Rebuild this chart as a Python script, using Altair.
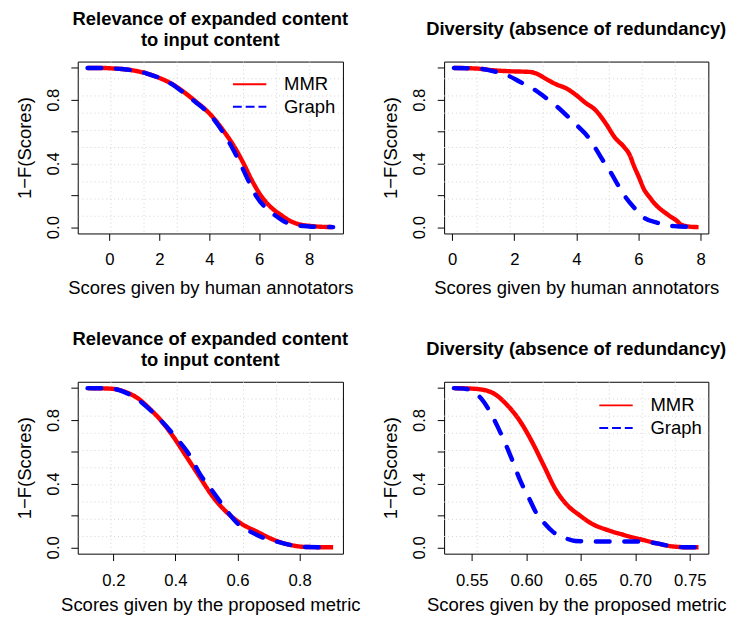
import altair as alt
import pandas as pd

FONT = "Liberation Sans"

# ---------------- data ----------------
# Panel 1: relevance, human annotators
p1_mmr_x = [-0.88, -0.3, 0.0, 0.5, 0.92, 1.5, 2.03, 2.5, 2.88, 3.41, 4.06, 4.59, 4.98, 5.37, 5.7, 6.1, 6.5, 6.88, 7.2, 7.5, 8.0, 8.5, 8.96]
p1_mmr_y = [1.0, 1.0, 0.998, 0.993, 0.985, 0.965, 0.935, 0.9, 0.86, 0.795, 0.705, 0.6, 0.51, 0.40, 0.295, 0.19, 0.12, 0.075, 0.042, 0.022, 0.008, 0.002, 0.0]
p1_graph_x = [-0.88, -0.3, 0.0, 0.5, 0.92, 1.5, 2.03, 2.5, 2.88, 3.41, 4.06, 4.59, 4.98, 5.24, 5.6, 5.9, 6.3, 6.69, 7.0, 7.34, 8.0, 8.5, 8.96]
p1_graph_y = [1.0, 1.0, 0.998, 0.993, 0.985, 0.965, 0.935, 0.898, 0.855, 0.79, 0.70, 0.585, 0.48, 0.40, 0.28, 0.19, 0.115, 0.068, 0.035, 0.017, 0.004, 0.001, 0.0]

# Panel 2: diversity, human annotators
p2_mmr_x = [0.055, 0.8, 1.34, 1.87, 2.5, 2.71, 3.03, 3.35, 3.67, 3.99, 4.3, 4.6, 4.93, 5.24, 5.55, 5.7, 5.87, 6.0, 6.19, 6.35, 6.51, 6.93, 7.26, 7.36, 7.67, 7.935]
p2_mmr_y = [1.0, 0.996, 0.985, 0.979, 0.975, 0.965, 0.93, 0.897, 0.872, 0.83, 0.78, 0.738, 0.656, 0.563, 0.50, 0.46, 0.377, 0.32, 0.233, 0.19, 0.15, 0.08, 0.035, 0.017, 0.002, 0.0]
p2_graph_x = [0.055, 0.81, 1.34, 1.76, 2.18, 2.66, 3.03, 3.4, 3.77, 4.04, 4.39, 4.6, 4.92, 5.13, 5.34, 5.61, 5.87, 6.19, 6.61, 7.14, 7.935]
p2_graph_y = [1.0, 0.996, 0.979, 0.955, 0.913, 0.862, 0.81, 0.753, 0.686, 0.635, 0.563, 0.50, 0.398, 0.336, 0.264, 0.181, 0.12, 0.058, 0.027, 0.006, 0.0]

# Panel 3: relevance, proposed metric
p3_mmr_x = [0.117, 0.19, 0.236, 0.28, 0.32, 0.352, 0.395, 0.437, 0.479, 0.516, 0.559, 0.611, 0.664, 0.717, 0.77, 0.823, 0.908]
p3_mmr_y = [1.0, 0.997, 0.978, 0.935, 0.865, 0.80, 0.69, 0.565, 0.44, 0.33, 0.232, 0.15, 0.097, 0.047, 0.015, 0.002, 0.0]
p3_graph_x = [0.117, 0.19, 0.236, 0.283, 0.32, 0.352, 0.395, 0.437, 0.4476, 0.479, 0.511, 0.5375, 0.569, 0.601, 0.633, 0.675, 0.717, 0.77, 0.823, 0.908]
p3_graph_y = [1.0, 0.998, 0.975, 0.923, 0.861, 0.80, 0.706, 0.603, 0.572, 0.459, 0.376, 0.304, 0.221, 0.149, 0.108, 0.066, 0.041, 0.015, 0.002, 0.0]

# Panel 4: diversity, proposed metric
p4_mmr_x = [0.5336, 0.5527, 0.5677, 0.5827, 0.5946, 0.6066, 0.6156, 0.6276, 0.6395, 0.6482, 0.6599, 0.6748, 0.6898, 0.7048, 0.7197, 0.7347, 0.7497, 0.758]
p4_mmr_y = [1.0, 0.996, 0.975, 0.892, 0.789, 0.645, 0.52, 0.355, 0.252, 0.205, 0.149, 0.108, 0.077, 0.05, 0.025, 0.005, 0.0, 0.0]
p4_graph_x = [0.5336, 0.545, 0.5497, 0.5587, 0.5677, 0.5737, 0.5812, 0.5857, 0.5946, 0.6021, 0.6096, 0.6156, 0.6245, 0.6366, 0.6449, 0.6689, 0.7048, 0.7197, 0.7347, 0.7497, 0.758]
p4_graph_y = [1.0, 0.995, 0.985, 0.934, 0.84, 0.758, 0.645, 0.572, 0.417, 0.314, 0.211, 0.159, 0.097, 0.056, 0.04, 0.036, 0.036, 0.025, 0.005, 0.0, 0.0]

series_names = ["MMR", "Graph"]
series_colors = ["#FF0000", "#0000FF"]

title_relevance = ["Relevance of expanded content", "to input content"]
title_diversity = "Diversity (absence of redundancy)"
xlab_human = "Scores given by human annotators"
xlab_metric = "Scores given by the proposed metric"
ylab = "1\u2212F(Scores)"

ticks_human1 = [0, 2, 4, 6, 8]
ticks_human2 = [0, 2, 4, 6, 8]
ticks_metric1 = [0.2, 0.4, 0.6, 0.8]
ticks_metric2 = [0.55, 0.60, 0.65, 0.70, 0.75]
y_ticks = [0.0, 0.2, 0.4, 0.6, 0.8, 1.0]


def panel(mx, my, gx, gy, xticks, xfmt, title, two_line, xtitle, show_legend, width, xtitle_y, legend_y):
    lo = min(mx[0], gx[0])
    hi = max(mx[-1], gx[-1])
    w = hi - lo
    xdom = [lo - 0.04 * w, hi + 0.04 * w]
    ydom = [-0.04, 1.04]

    df = pd.DataFrame({
        "x": list(mx) + list(gx),
        "y": list(my) + list(gy),
        "series": ["MMR"] * len(mx) + ["Graph"] * len(gx),
    })
    vgrid = pd.DataFrame({"x": [xdom[0] + k * (xdom[1] - xdom[0]) / 8 for k in range(1, 8)]})
    hgrid = pd.DataFrame({"y": [ydom[0] + k * (ydom[1] - ydom[0]) / 10 for k in range(1, 10)]})

    xs = alt.Scale(domain=xdom, nice=False, zero=False)
    ys = alt.Scale(domain=ydom, nice=False, zero=False)
    cs = alt.Scale(domain=series_names, range=series_colors)
    ds = alt.Scale(domain=series_names, range=[[1, 0], [9, 4]])

    xaxis = alt.Axis(values=xticks, format=xfmt, labelAngle=0, labelPadding=12, tickSize=7,
                     labelFlush=False, labelOverlap=False, title=xtitle,
                     titleY=xtitle_y, titleBaseline="alphabetic")
    yaxis = alt.Axis(values=y_ticks, tickSize=7, labelAngle=270, labelAlign="center",
                     labelBaseline="bottom", labelPadding=9, labelFlush=False, labelOverlap=False,
                     labelExpr="(abs(datum.value) < 1e-6 || abs(datum.value - 0.4) < 1e-6 || abs(datum.value - 0.8) < 1e-6) ? format(datum.value, '.1f') : ''",
                     title=ylab, titleAngle=270, titleX=-48, titleBaseline="alphabetic",
                     titleAlign="center")

    if show_legend:
        leg = alt.Legend(title=None, orient="none", legendX=157, legendY=legend_y,
                         symbolType="stroke", symbolSize=1156, symbolStrokeWidth=2,
                         labelFontSize=18.8, labelFont=FONT, labelColor="black",
                         labelOffset=17, rowPadding=4, padding=0, clipHeight=18)
    else:
        leg = None

    X = alt.X("x:Q", scale=xs, axis=xaxis)
    Y = alt.Y("y:Q", scale=ys, axis=yaxis)

    vg = alt.Chart(vgrid).mark_rule(color="#d3d3d3", strokeDash=[1, 3], strokeWidth=1).encode(x=X)
    hg = alt.Chart(hgrid).mark_rule(color="#d3d3d3", strokeDash=[1, 3], strokeWidth=1).encode(y=Y)

    mmr = alt.Chart(df).transform_filter(alt.datum.series == "MMR").mark_line(
        interpolate="monotone"
    ).encode(
        x=X, y=Y,
        color=alt.Color("series:N", scale=cs, legend=leg),
        strokeDash=alt.StrokeDash("series:N", scale=ds, legend=leg),
        strokeWidth=alt.value(4.5),
    )
    graph = alt.Chart(df).transform_filter(alt.datum.series == "Graph").mark_line(
        interpolate="monotone", strokeWidth=4.5, strokeCap="round", strokeDash=[14, 15]
    ).encode(
        x=X, y=Y,
        color=alt.Color("series:N", scale=cs, legend=None),
    )

    t = alt.TitleParams(text=title, fontSize=18.7, fontWeight="bold", font=FONT, color="black",
                        baseline="bottom", offset=-9 if two_line else 2, lineHeight=21,
                        anchor="middle", frame="group")
    return alt.layer(hg, vg, mmr, graph).properties(width=width, height=175, title=t)


c1 = panel(p1_mmr_x, p1_mmr_y, p1_graph_x, p1_graph_y, ticks_human1, "d", title_relevance, True, xlab_human, True, 270, 61, 14)
c2 = panel(p2_mmr_x, p2_mmr_y, p2_graph_x, p2_graph_y, ticks_human2, "d", title_diversity, False, xlab_human, False, 269, 61, 14)
c3 = panel(p3_mmr_x, p3_mmr_y, p3_graph_x, p3_graph_y, ticks_metric1, ".1f", title_relevance, True, xlab_metric, False, 270, 58, 15)
c4 = panel(p4_mmr_x, p4_mmr_y, p4_graph_x, p4_graph_y, ticks_metric2, ".2f", title_diversity, False, xlab_metric, True, 269, 58, 15)

chart = alt.concat(c1, c2, c3, c4, columns=2, spacing={"row": 32, "column": 21}).resolve_scale(
    color="independent", strokeDash="independent", x="independent", y="independent"
).resolve_legend(color="independent", strokeDash="independent").properties(
    padding={"left": 7, "right": 0, "top": -4, "bottom": 0}
).configure_view(stroke="black", strokeWidth=1).configure_axis(
    labelFont=FONT, titleFont=FONT, labelColor="black", titleColor="black",
    tickColor="black", tickWidth=1, domain=False, grid=False,
    labelFontSize=17, titleFontSize=18.8, titleFontWeight="normal"
)

chart.save("out.html", embed_options={"renderer": "svg", "actions": False})
